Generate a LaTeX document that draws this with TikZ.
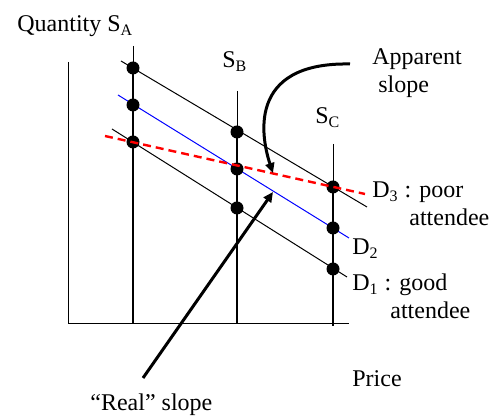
\documentclass[tikz,border=0pt]{standalone}
\usepackage{fontspec}
\setmainfont{Liberation Serif}
\usetikzlibrary{arrows.meta,backgrounds}

\begin{document}
\begin{tikzpicture}[x=0.5pt,y=-0.5pt,
    every node/.style={font=\fontsize{12}{14}\selectfont,inner sep=0pt},
    lbl/.style={anchor=base west,align=left},
    dot/.style={circle,fill=black,minimum size=6.5pt},
    thin/.style={line width=0.5pt},
    supply/.style={line width=1pt},
    apparent/.style={red,line width=1.2pt,dash pattern=on 4pt off 2.5pt},
    pointer/.style={line width=1.5pt,-{Triangle[length=5pt,width=4.5pt]}}]
  \useasboundingbox (0,0) rectangle (499,416);
  % supply points
  \node[dot] (a3) at (133,68)  {};
  \node[dot] (a2) at (133,105) {};
  \node[dot] (a1) at (133,142) {};
  \node[dot] (b3) at (237,132) {};
  \node[dot] (b2) at (237,169) {};
  \node[dot] (b1) at (237,208) {};
  \node[dot] (c3) at (333,187) {};
  \node[dot] (c2) at (333,228) {};
  \node[dot] (c1) at (333,269) {};
  \begin{scope}[on background layer]
    % axes
    \coordinate (top) at (68,62);
    \coordinate (origin) at (68,324);
    \coordinate (right) at (349,324);
    \draw[thin] (top) -- (origin) -- (right);
    % supply lines
    \coordinate (sa) at (133,46);  \coordinate (sa0) at (133,324);
    \coordinate (sb) at (237,91);  \coordinate (sb0) at (237,324);
    \coordinate (sc) at (333,144); \coordinate (sc0) at (333,326);
    \draw[thin] (sa) -- (a3.center); \draw[supply] (a3.center) -- (sa0);
    \draw[thin] (sb) -- (b3.center); \draw[supply] (b3.center) -- (sb0);
    \draw[thin] (sc) -- (c3.center); \draw[supply] (c3.center) -- (sc0);
    % demand curves
    \coordinate (d3s) at (121,61);  \coordinate (d3e) at (367,207);
    \coordinate (d2s) at (118,95);  \coordinate (d2e) at (349,238);
    \coordinate (d1s) at (112,129); \coordinate (d1e) at (347,277);
    \draw[thin] (d3s) -- (d3e);
    \draw[thin,blue] (d2s) -- (d2e);
    \draw[thin] (d1s) -- (d1e);
  \end{scope}
  \coordinate (rs) at (105,136); \coordinate (re) at (365,194);
  \draw[apparent] (rs) -- (re);
  % labels
  \node[lbl] (qty) at (17,31.5) {Quantity S\textsubscript{A}};
  \node[lbl] (sblbl) at (222,68) {S\textsubscript{B}};
  \node[lbl] (sclbl) at (315,124) {S\textsubscript{C}};
  \node[lbl] (app) at (372,93) {Apparent\\\ slope};
  \node[lbl] (d3lbl) at (372,226) {D\textsubscript{3} : poor\\\hspace*{18.5pt}attendee};
  \node[lbl] (d2lbl) at (352,255) {D\textsubscript{2}};
  \node[lbl] (d1lbl) at (352,319) {D\textsubscript{1} : good\\\hspace*{19pt}attendee};
  \node[lbl] (price) at (352,387) {Price};
  \node[lbl] (real) at (90,410.5) {``Real'' slope};
  % pointers
  \coordinate (appfrom) at (350,64);  \coordinate (appto) at (273,173);
  \coordinate (realfrom) at (143,378); \coordinate (realto) at (273,192);
  \draw[pointer] (appfrom) .. controls (245,62) and (262,140) .. (appto);
  \draw[pointer] (realfrom) -- (realto);
\end{tikzpicture}
\end{document}
